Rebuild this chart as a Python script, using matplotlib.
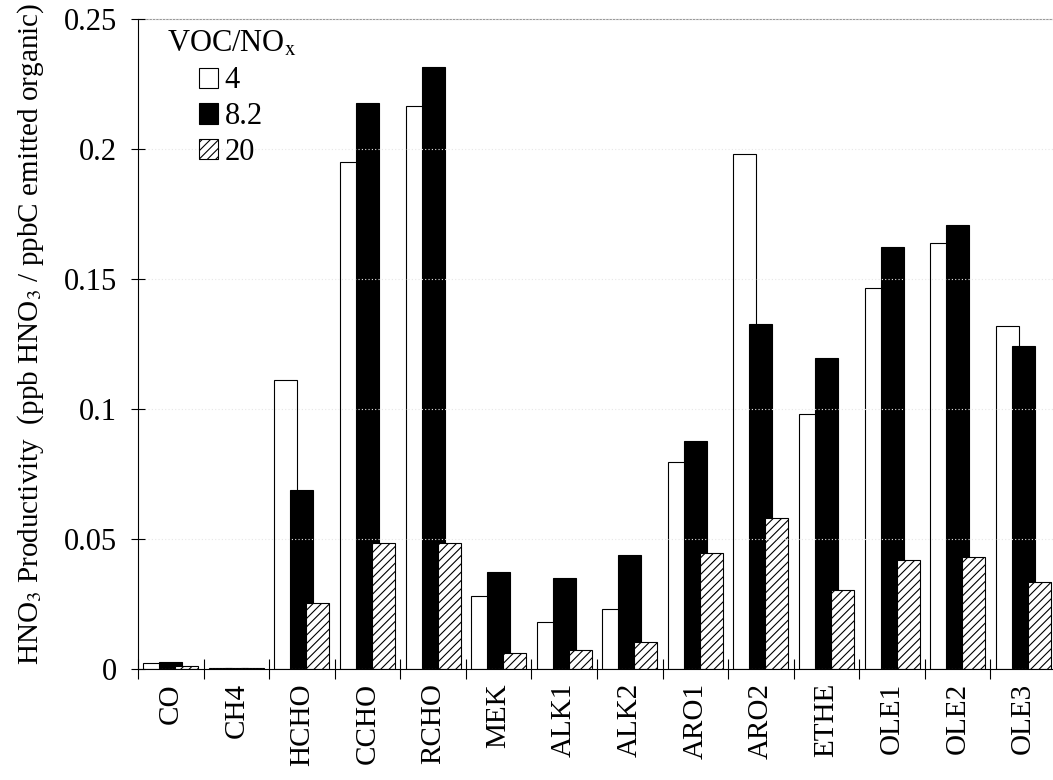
import matplotlib
matplotlib.use("Agg")
import matplotlib.pyplot as plt
import numpy as np
from matplotlib.patches import Patch

plt.rcParams['font.family'] = ['Liberation Serif', 'DejaVu Serif']
plt.rcParams['mathtext.fontset'] = 'stix'
plt.rcParams['hatch.linewidth'] = 0.8

# HNO3 productivity by VOC species, three VOC/NOx ratios
species = ["CO", "CH4", "HCHO", "CCHO", "RCHO", "MEK", "ALK1", "ALK2",
           "ARO1", "ARO2", "ETHE", "OLE1", "OLE2", "OLE3"]
ratio_4 = [0.0022, 0.0003, 0.111, 0.195, 0.2167, 0.028, 0.018, 0.023,
           0.0796, 0.198, 0.0981, 0.1467, 0.1638, 0.1318]
ratio_82 = [0.0026, 0.0003, 0.069, 0.2175, 0.2315, 0.0375, 0.035, 0.044,
            0.0877, 0.1327, 0.1198, 0.1624, 0.1709, 0.1243]
ratio_20 = [0.001, 0.0002, 0.0254, 0.0485, 0.0485, 0.006, 0.0073, 0.0104,
            0.0446, 0.0581, 0.0304, 0.0418, 0.0432, 0.0336]
legend_labels = ["4", "8.2", "20"]

fig = plt.figure(figsize=(10.53, 7.8), dpi=100)
ax = fig.add_axes([138 / 1053, 111 / 780, 918 / 1053, 650 / 780])

x = np.arange(len(species))
step = 0.244
width = 0.35
ax.bar(x - step, ratio_4, width, color="white", edgecolor="black", linewidth=0.8, zorder=2)
ax.bar(x, ratio_82, width, color="black", edgecolor="black", linewidth=0.8, zorder=2)
ax.bar(x + step, ratio_20, width, color="white", edgecolor="black", linewidth=0.8,
       hatch="////", zorder=2)

ax.set_xlim(-0.5, len(species) - 0.5)
ax.set_ylim(0, 0.25)
ax.set_yticks([0, 0.05, 0.1, 0.15, 0.2, 0.25])
ax.set_yticklabels(["0", "0.05", "0.1", "0.15", "0.2", "0.25"])
ax.set_xticks(x)
ax.set_xticklabels(species, rotation=90)
ax.set_xticks(np.arange(-0.5, len(species)), minor=True)
ax.tick_params(axis="x", which="major", length=0, pad=10, labelsize=21)
ax.tick_params(axis="x", which="minor", direction="inout", length=14, width=0.8)
ax.tick_params(axis="y", direction="inout", length=10, width=0.8, pad=10, labelsize=22)

ax.grid(axis="y", color="#e6e6e6", linestyle=(0, (1, 2)), linewidth=0.8, zorder=3)
ax.set_axisbelow(False)

ax.spines["right"].set_visible(False)
ax.spines["top"].set_color("#999999")
ax.spines["top"].set_linewidth(0.8)
ax.spines["left"].set_linewidth(0.8)
ax.spines["bottom"].set_linewidth(0.8)

ax.set_ylabel("HNO$_3$ Productivity  (ppb HNO$_3$ / ppbC emitted organic)", fontsize=21)
ax.yaxis.set_label_coords(-0.1, 0.515)

ax.text(0.032, 0.983, "VOC/NO$_\\mathrm{x}$", transform=ax.transAxes, fontsize=22,
        ha="left", va="top")
handles = [Patch(facecolor="white", edgecolor="black", linewidth=0.8),
           Patch(facecolor="black", edgecolor="black", linewidth=0.8),
           Patch(facecolor="white", edgecolor="black", linewidth=0.8, hatch="////")]
ax.legend(handles, legend_labels, loc="upper left", bbox_to_anchor=(0.066, 0.927),
          frameon=False, fontsize=22, handlelength=0.65, handleheight=0.65,
          handletextpad=0.2, labelspacing=0.22, borderaxespad=0, borderpad=0)

fig.savefig("out.png", dpi=100)
